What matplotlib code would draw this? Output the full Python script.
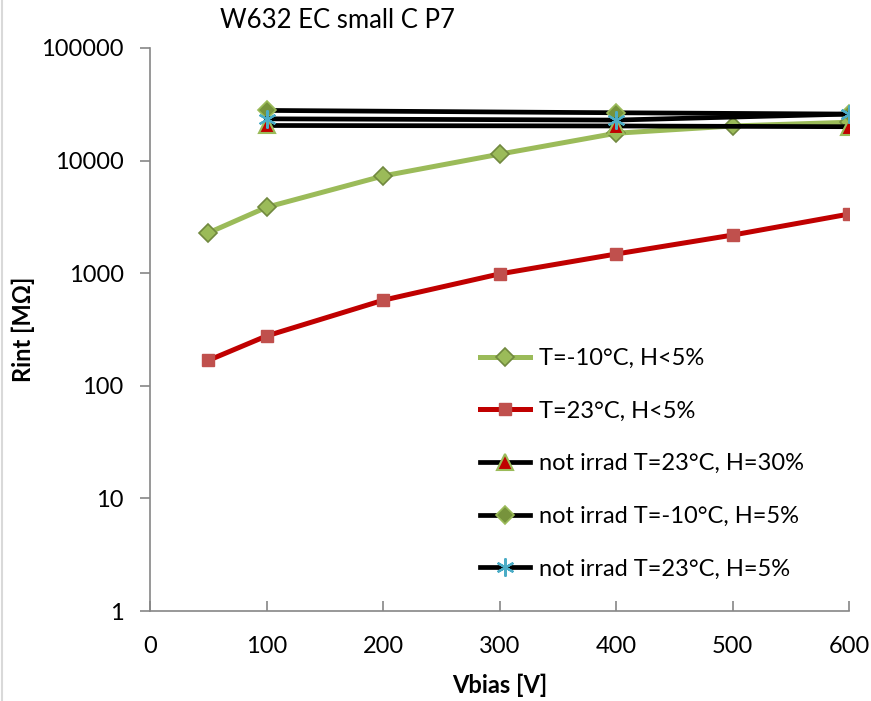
import matplotlib.pyplot as plt
from matplotlib.ticker import FixedLocator, FixedFormatter

plt.rcParams['font.family'] = ['Lato', 'DejaVu Sans']

# irradiated sample
v_irr = [50, 100, 200, 300, 400, 500, 600]
rint_m10 = [2280, 3850, 7300, 11400, 17500, 20300, 21900]
rint_23 = [168, 277, 575, 985, 1480, 2180, 3350]

# not irradiated sample
v_ref = [100, 400, 600]
rint_ref_23_h30 = [20500, 20300, 20000]
rint_ref_m10_h5 = [27900, 26600, 25900]
rint_ref_23_h5 = [23500, 22900, 25900]

labels = ["T=-10°C, H<5%", "T=23°C, H<5%", "not irrad T=23°C, H=30%",
          "not irrad T=-10°C, H=5%", "not irrad T=23°C, H=5%"]

yticks = [1, 10, 100, 1000, 10000, 100000]
xticks = [0, 100, 200, 300, 400, 500, 600]

fig = plt.figure(figsize=(8.71, 7.01), dpi=100)
ax = fig.add_axes([150 / 871, 1 - 611 / 701, 699 / 871, 563 / 701])

ax.plot(v_irr, rint_m10, color="#9BBB59", lw=3.6, marker="D", ms=9,
        mfc="#9BBB59", mec="#71893F", mew=1.2, label=labels[0])
ax.plot(v_irr, rint_23, color="#C00000", lw=3.6, marker="s", ms=8,
        mfc="#C0504D", mec="#C0504D", label=labels[1])
ax.plot(v_ref, rint_ref_23_h30, color="black", lw=3.4, marker="^", ms=11,
        mfc="#C00000", mec="#9BBB59", mew=1.5, label=labels[2])
ax.plot(v_ref, rint_ref_m10_h5, color="black", lw=3.4, marker="D", ms=9,
        mfc="#77933C", mec="#9BBB59", mew=1.2, label=labels[3])
ax.plot(v_ref, rint_ref_23_h5, color="black", lw=3.4, marker=(6, 2, 0), ms=13,
        mec="#4BACC6", mew=1.6, label=labels[4])

ax.set_yscale("log")
ax.set_ylim(1, 100000)
ax.set_xlim(0, 600)
ax.yaxis.set_major_locator(FixedLocator(yticks))
ax.yaxis.set_major_formatter(FixedFormatter([str(t) for t in yticks]))
ax.yaxis.set_minor_locator(FixedLocator([]))
ax.set_xticks(xticks)

for side in ["top", "right"]:
    ax.spines[side].set_visible(False)
for side in ["left", "bottom"]:
    ax.spines[side].set_color("#868686")
    ax.spines[side].set_linewidth(1.2)

ax.tick_params(axis="x", direction="in", length=7, width=1.2, color="#868686",
               labelsize=17, pad=18)
ax.tick_params(axis="y", direction="out", length=7, width=1.2, color="#868686",
               labelsize=17, pad=12)

ax.set_xlabel("Vbias [V]", fontsize=17, fontweight="bold", labelpad=12)
ax.set_ylabel("Rint [MΩ]", fontsize=17, fontweight="bold")
ax.yaxis.set_label_coords(-0.164, 0.5)
fig.text(337 / 871, 1 - 20 / 701, "W632 EC small C P7", fontsize=18.5,
         ha="center", va="center")

fig.legend(loc="upper left", bbox_to_anchor=(480 / 871, 1 - 348 / 701),
           frameon=False, fontsize=17, borderpad=0, handlelength=2.1,
           handletextpad=0.4, labelspacing=1.34, borderaxespad=0)

# thin frame line on the left edge
fig.add_artist(plt.Line2D([2 / 871, 2 / 871], [0, 1], color="#D9D9D9", lw=1.5))

fig.savefig("out.png", dpi=100)
